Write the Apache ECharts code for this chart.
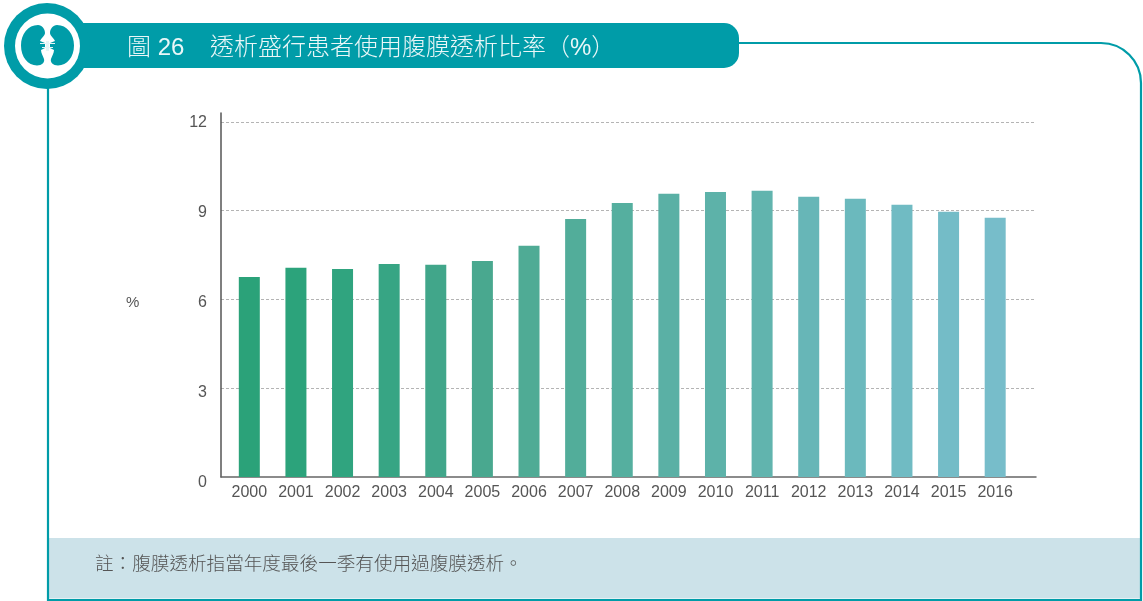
<!DOCTYPE html>
<html><head><meta charset="utf-8">
<style>html,body{margin:0;padding:0;background:#fff}#c{width:1143px;height:601px}</style>
<script src="https://cdn.jsdelivr.net/npm/echarts@6/dist/echarts.min.js"></script>
</head><body><div id="c"></div>
<script>
const years = ['2000','2001','2002','2003','2004','2005','2006','2007','2008','2009','2010','2011','2012','2013','2014','2015','2016'];
const values = [6.76,7.07,7.03,7.2,7.17,7.3,7.81,8.72,9.26,9.57,9.63,9.67,9.47,9.4,9.2,8.96,8.76];
const barColors = ['#2ba279','#2ca37b','#30a47f','#37a584','#41a68a','#49a88f','#4fab95','#52ad9a','#55af9f','#5ab0a5','#5db2a9','#61b4ae','#67b6b7','#6bb9bd','#70bbc3','#74bcc7','#77bdca'];
const yTicks = ['0','3','6','9','12'];
const titleNo = '圖 26';
const titleText = '透析盛行患者使用腹膜透析比率\uFF08%\uFF09';
const unit = '%';
const note = '註\uFF1A腹膜透析指當年度最後一季有使用過腹膜透析。';
const teal = '#009ca8';
const cjk = '"Liberation Sans","Noto Sans CJK TC",sans-serif';
const latin = '"Liberation Sans",sans-serif';

const framePath = 'M48 60 L48 600 L1141 600 L1141 83 A40 40 0 0 0 1101 43 L700 43';
const kidneyL = 'M38 25 C28 25 21 34 21 45.5 C21 57 28 65.5 37 65.5 C42 65.5 45 62 44 59 C43 56 41 53 41 50 L45 48 L45 43 L40 41 C41 38 45 36 45 33 C45 29 42 25 38 25 Z';
const kidneyR = 'M57 25 C67 25 74 34 74 45.5 C74 57 67 65.5 58 65.5 C53 65.5 50 62 51 59 C52 56 54 53 54 50 L50 48 L50 43 L55 41 C54 38 50 36 50 33 C50 29 53 25 57 25 Z';
const vessels = 'M40 43 L55 43 L55 44 L40 44 Z M42 47 L53 47 L53 48 L42 48 Z M46 41 L49 41 L49 51 L46 51 Z';

const chart = echarts.init(document.getElementById('c'), null, {renderer:'canvas'});
chart.setOption({
  animation:false,
  backgroundColor:'#fff',
  grid:[
    {left:221,top:113,width:815,height:364},
    {left:226,top:113,width:792.5,height:364},
    {left:221,top:123,width:815,height:360}
  ],
  xAxis:[
    {gridIndex:0,type:'value',min:0,max:1,axisLine:{show:true,onZero:false,lineStyle:{color:'#666',width:1.5}},axisTick:{show:false},axisLabel:{show:false},splitLine:{show:false}},
    {gridIndex:1,type:'category',data:years,axisLine:{show:false},axisTick:{show:false},
      axisLabel:{interval:0,color:'#555',fontSize:16,fontFamily:latin,margin:8}},
    {gridIndex:2,type:'value',min:0,max:1,show:false}
  ],
  yAxis:[
    {gridIndex:0,type:'value',min:0,max:12.3,interval:3,
      axisLine:{show:true,lineStyle:{color:'#555',width:1.5}},axisTick:{show:false},axisLabel:{show:false},
      splitLine:{show:true,showMaxLine:false,showMinLine:false,lineStyle:{color:'#b4b4b4',type:[3,2],width:1}}},
    {gridIndex:1,type:'value',min:0,max:12.3,interval:3,axisLine:{show:false},axisTick:{show:false},axisLabel:{show:false},splitLine:{show:false}},
    {gridIndex:2,type:'category',data:yTicks,boundaryGap:false,axisLine:{show:false},axisTick:{show:false},splitLine:{show:false},
      axisLabel:{interval:0,color:'#555',fontSize:16,fontFamily:latin,margin:14}}
  ],
  series:[
    {type:'bar',xAxisIndex:1,yAxisIndex:1,barWidth:21,z:3,
      data:values.map((v,i)=>({value:v,itemStyle:{color:barColors[i]}}))},
    {type:'custom',coordinateSystem:'none',data:[0],silent:true,z:0,
      renderItem:()=>({type:'path',shape:{pathData:framePath},style:{fill:null,stroke:teal,lineWidth:2.2}})},
    {type:'custom',coordinateSystem:'none',data:[0],silent:true,z:20,
      renderItem:()=>({type:'group',children:[
        {type:'path',shape:{pathData:kidneyL},style:{fill:teal}},
        {type:'path',shape:{pathData:kidneyR},style:{fill:teal}},
        {type:'path',shape:{pathData:vessels},style:{fill:'#e6f5f6'}}
      ]})}
  ],
  graphic:[
    {type:'rect',z:-5,shape:{x:49,y:538,width:1091,height:60.5},style:{fill:'#cce2e9'}},
    {type:'rect',z:10,shape:{x:46,y:23,width:693,height:45,r:[0,15,15,0]},style:{fill:teal}},
    {type:'circle',z:11,shape:{cx:47,cy:46,r:43},style:{fill:teal}},
    {type:'circle',z:12,shape:{cx:47.5,cy:46,r:32.5},style:{fill:'#fff'}},
    {type:'text',z:15,style:{x:127,y:48,text:titleNo,fill:'#eaf7f8',font:'300 24px '+cjk,textVerticalAlign:'middle'}},
    {type:'text',z:15,style:{x:210,y:48,text:titleText,fill:'#eaf7f8',font:'300 24px '+cjk,textVerticalAlign:'middle'}},
    {type:'text',z:15,style:{x:126,y:303,text:unit,fill:'#555',font:'15px '+latin,textVerticalAlign:'middle'}},
    {type:'text',z:15,style:{x:95,y:565,text:note,fill:'#555',font:'300 18.6px '+cjk,textVerticalAlign:'middle'}}
  ]
});
</script></body></html>
